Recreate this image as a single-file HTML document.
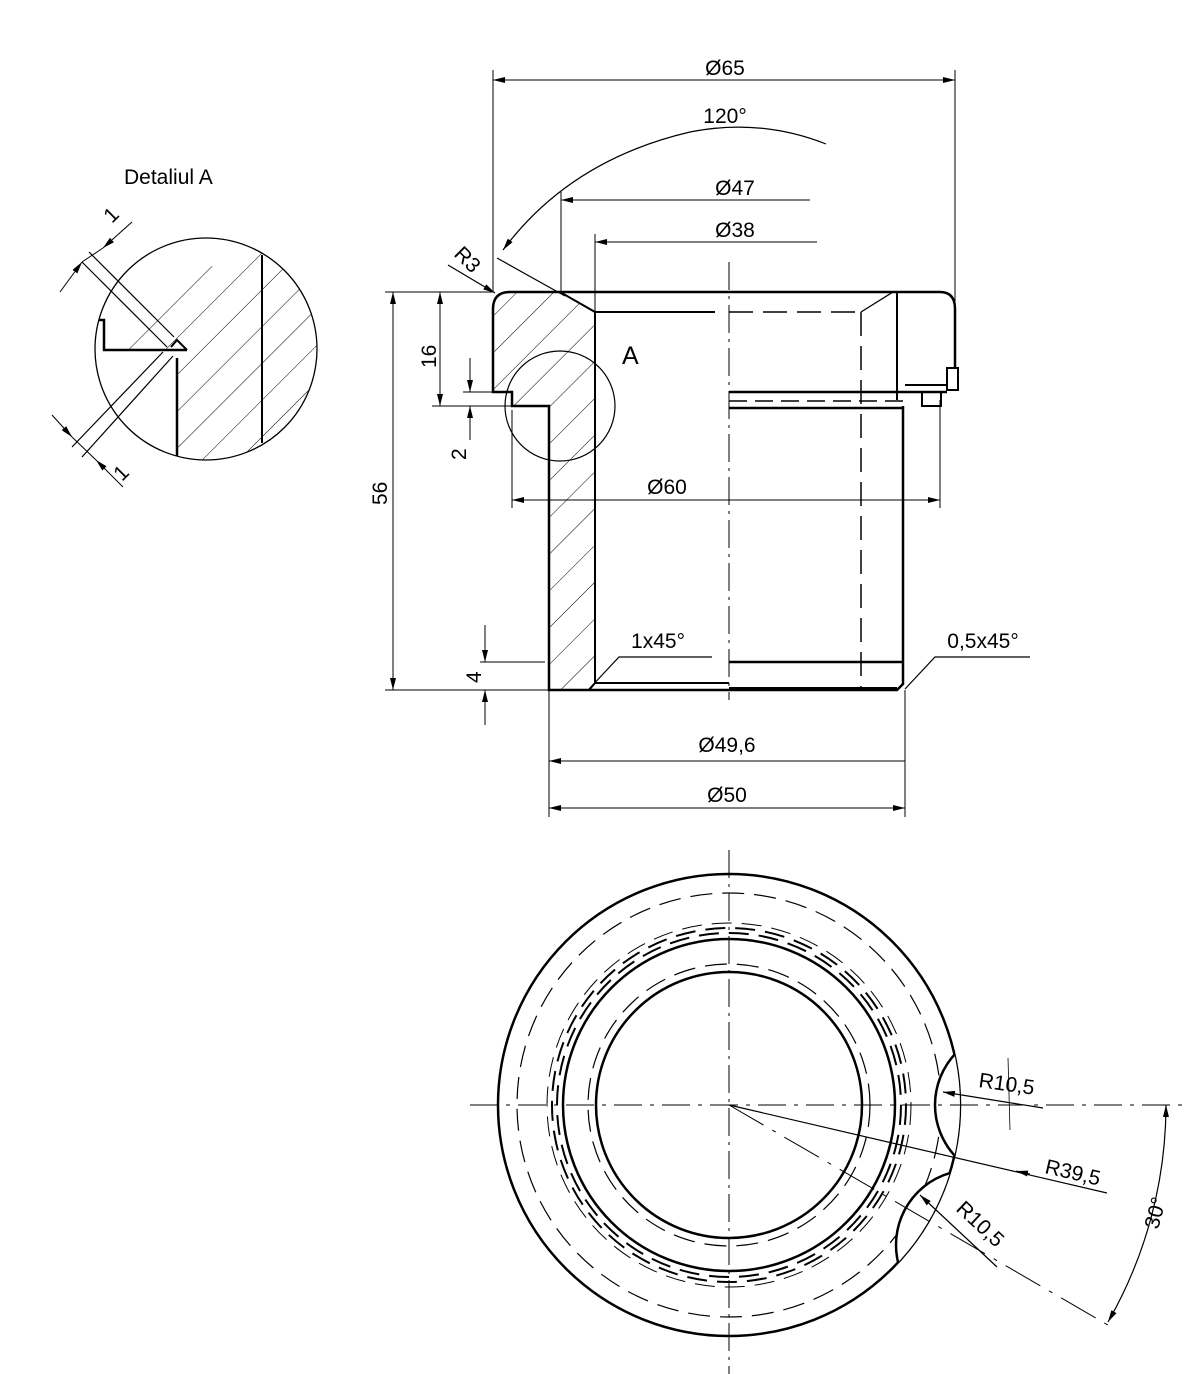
<!DOCTYPE html>
<html><head><meta charset="utf-8"><style>
html,body{margin:0;padding:0;background:#fff}
svg{display:block}
text{font-family:"Liberation Sans",sans-serif;fill:#000}
</style></head><body>
<svg width="1191" height="1374" viewBox="0 0 1191 1374" xmlns="http://www.w3.org/2000/svg">
<defs>
<marker id="a" viewBox="0 0 12 6" refX="12" refY="3" markerWidth="12" markerHeight="6" orient="auto-start-reverse" markerUnits="userSpaceOnUse"><path d="M0,0 L12,3 L0,6 Z" fill="#000"/></marker>
<pattern id="h" patternUnits="userSpaceOnUse" width="26" height="26" patternTransform="rotate(-45)"><line x1="0" y1="0" x2="26" y2="0" stroke="#000" stroke-width="1"/></pattern>
<clipPath id="dc"><circle cx="206" cy="349" r="111"/></clipPath>
<clipPath id="oc"><circle cx="729" cy="1105" r="231"/></clipPath>
</defs>
<g fill="none" stroke="#000">

<!-- Detail A -->
<text x="124" y="184" font-size="21" stroke="none">Detaliul A</text>
<circle cx="206" cy="349" r="111" stroke-width="1.3"/>
<g clip-path="url(#dc)">
<path d="M187,350 L262,255 L330,230 L330,470 L177,470 L177,360 Z" fill="url(#h)" stroke="none"/>
<path d="M104,350 L170,280 L262,250 L262,255 L187,350 Z" fill="url(#h)" stroke="none"/>
</g>
<path d="M99,320 L104,320 L104,350 L187,350" stroke-width="2.5"/>
<path d="M171,347 L177,340 L187,350" stroke-width="2"/>
<line x1="177" y1="358" x2="177" y2="456" stroke-width="2.5"/>
<line x1="262" y1="255" x2="262" y2="443" stroke-width="2"/>
<line x1="89" y1="252" x2="174" y2="337" stroke-width="1.2"/>
<line x1="82" y1="262" x2="167" y2="347" stroke-width="1.2"/>
<line x1="60" y1="292" x2="82" y2="262" stroke-width="1" marker-end="url(#a)"/>
<line x1="132" y1="222" x2="103" y2="248" stroke-width="1" marker-end="url(#a)"/>
<line x1="82" y1="262" x2="103" y2="248" stroke-width="1"/>
<line x1="72" y1="447" x2="163" y2="352" stroke-width="1.2"/>
<line x1="82" y1="457" x2="173" y2="356" stroke-width="1.2"/>
<line x1="52" y1="415" x2="72" y2="437" stroke-width="1" marker-end="url(#a)"/>
<line x1="123" y1="487" x2="96" y2="460" stroke-width="1" marker-end="url(#a)"/>
<line x1="72" y1="437" x2="96" y2="460" stroke-width="1"/>
<text x="0" y="0" font-size="21" stroke="none" transform="translate(112,224) rotate(-45)">1</text>
<text x="0" y="0" font-size="21" stroke="none" transform="translate(122,482) rotate(-45)">1</text>

<!-- Section view -->
<path d="M510,292 L560,292 L595,312 L595,683 L589,690 L549,690 L549,406 L512,406 L512,392 L493,392 L493,309 Q493,292 510,292 Z" fill="url(#h)" stroke="none"/>
<path d="M510,292 L940,292 Q955,292 955,309 L955,368" stroke-width="2.5"/>
<path d="M510,292 Q493,292 493,309 L493,392 L512,392 L512,406 L549,406 L549,690 L897,690 L903,684 L903,406" stroke-width="2.5"/>
<path d="M560,292 L595,312 L595,683 L589,690" stroke-width="2"/>
<line x1="595" y1="312" x2="715" y2="312" stroke-width="2"/>
<line x1="729" y1="312" x2="861" y2="312" stroke-width="1.5" stroke-dasharray="24,10"/>
<line x1="861" y1="312" x2="861" y2="690" stroke-width="1.5" stroke-dasharray="24,10"/>
<path d="M893,292 L861,312" stroke-width="1.3"/>
<line x1="897" y1="292" x2="897" y2="400" stroke-width="2"/>
<rect x="947" y="368" width="11" height="22" stroke-width="2"/>
<line x1="905" y1="385" x2="947" y2="385" stroke-width="2"/>
<line x1="729" y1="392" x2="947" y2="392" stroke-width="2.5"/>
<rect x="922" y="392" width="19" height="14" stroke-width="2"/>
<line x1="729" y1="401" x2="903" y2="401" stroke-width="1.5" stroke-dasharray="18,8"/>
<line x1="729" y1="408" x2="903" y2="408" stroke-width="2.5"/>
<line x1="729" y1="662" x2="903" y2="662" stroke-width="2.5"/>
<line x1="595" y1="683" x2="729" y2="683" stroke-width="2"/>
<line x1="729" y1="689" x2="897" y2="689" stroke-width="4"/>
<line x1="729" y1="262" x2="729" y2="700" stroke-width="1" stroke-dasharray="28,6,3,6"/>
<circle cx="560" cy="406" r="55" stroke-width="1.2"/>
<text x="622" y="364" font-size="25" stroke="none">A</text>

<!-- dims top -->
<line x1="493" y1="70" x2="493" y2="292" stroke-width="1"/>
<line x1="955" y1="70" x2="955" y2="368" stroke-width="1"/>
<line x1="493" y1="80" x2="955" y2="80" stroke-width="1" marker-start="url(#a)" marker-end="url(#a)"/>
<text x="725" y="75" font-size="21" text-anchor="middle" stroke="none">Ø65</text>
<path d="M826,144 Q760,118 690,132 Q570,160 503,250" stroke-width="1.2" marker-end="url(#a)"/>
<text x="725" y="123" font-size="21" text-anchor="middle" stroke="none">120°</text>
<line x1="561" y1="192" x2="561" y2="292" stroke-width="1"/>
<line x1="561" y1="200" x2="810" y2="200" stroke-width="1" marker-start="url(#a)"/>
<text x="735" y="195" font-size="21" text-anchor="middle" stroke="none">Ø47</text>
<line x1="595" y1="234" x2="595" y2="312" stroke-width="1"/>
<line x1="595" y1="242" x2="817" y2="242" stroke-width="1" marker-start="url(#a)"/>
<text x="735" y="237" font-size="21" text-anchor="middle" stroke="none">Ø38</text>
<line x1="448" y1="265" x2="495" y2="293" stroke-width="1.2" marker-end="url(#a)"/>
<line x1="497" y1="258" x2="565" y2="296" stroke-width="1.2"/>
<text x="0" y="0" font-size="21" stroke="none" transform="translate(453,255) rotate(45)">R3</text>

<!-- left dims -->
<line x1="385" y1="292" x2="493" y2="292" stroke-width="1"/>
<line x1="385" y1="690" x2="549" y2="690" stroke-width="1"/>
<line x1="393" y1="292" x2="393" y2="690" stroke-width="1" marker-start="url(#a)" marker-end="url(#a)"/>
<text x="0" y="0" font-size="21" stroke="none" transform="translate(387,505) rotate(-90)">56</text>
<line x1="432" y1="406" x2="512" y2="406" stroke-width="1"/>
<line x1="463" y1="392" x2="493" y2="392" stroke-width="1"/>
<line x1="440" y1="292" x2="440" y2="406" stroke-width="1" marker-start="url(#a)" marker-end="url(#a)"/>
<text x="0" y="0" font-size="21" stroke="none" transform="translate(436,368) rotate(-90)">16</text>
<line x1="470" y1="358" x2="470" y2="392" stroke-width="1" marker-end="url(#a)"/>
<line x1="470" y1="440" x2="470" y2="406" stroke-width="1" marker-end="url(#a)"/>
<text x="0" y="0" font-size="21" stroke="none" transform="translate(466,460) rotate(-90)">2</text>
<line x1="480" y1="662" x2="545" y2="662" stroke-width="1"/>
<line x1="485" y1="625" x2="485" y2="662" stroke-width="1" marker-end="url(#a)"/>
<line x1="485" y1="725" x2="485" y2="690" stroke-width="1" marker-end="url(#a)"/>
<text x="0" y="0" font-size="21" stroke="none" transform="translate(481,683) rotate(-90)">4</text>
<line x1="512" y1="410" x2="512" y2="508" stroke-width="1"/>
<line x1="940" y1="400" x2="940" y2="508" stroke-width="1"/>
<line x1="512" y1="500" x2="940" y2="500" stroke-width="1" marker-start="url(#a)" marker-end="url(#a)"/>
<text x="667" y="494" font-size="21" text-anchor="middle" stroke="none">Ø60</text>
<path d="M589,689 L619,657 L712,657" stroke-width="1.2"/>
<text x="658" y="648" font-size="21" text-anchor="middle" stroke="none">1x45°</text>
<path d="M905,689 L935,657 L1030,657" stroke-width="1.2"/>
<text x="983" y="648" font-size="21" text-anchor="middle" stroke="none">0,5x45°</text>
<line x1="549" y1="690" x2="549" y2="817" stroke-width="1"/>
<line x1="905" y1="690" x2="905" y2="817" stroke-width="1"/>
<line x1="549" y1="761" x2="905" y2="761" stroke-width="1" marker-start="url(#a)"/>
<text x="727" y="752" font-size="21" text-anchor="middle" stroke="none">Ø49,6</text>
<line x1="549" y1="808" x2="905" y2="808" stroke-width="1" marker-start="url(#a)" marker-end="url(#a)"/>
<text x="727" y="802" font-size="21" text-anchor="middle" stroke="none">Ø50</text>

<!-- Bottom view -->
<circle cx="729" cy="1105" r="212" stroke-width="1.2" stroke-dasharray="22,10"/>
<circle cx="729" cy="1105" r="182" stroke-width="1" stroke-dasharray="20,10"/>
<circle cx="729" cy="1105" r="177" stroke-width="2" stroke-dasharray="20,10"/>
<circle cx="729" cy="1105" r="172" stroke-width="2" stroke-dasharray="20,10"/>
<circle cx="729" cy="1105" r="166" stroke-width="2.5"/>
<circle cx="729" cy="1105" r="141" stroke-width="1.2" stroke-dasharray="22,10"/>
<circle cx="729" cy="1105" r="133" stroke-width="2.5"/>
<circle cx="729" cy="1105" r="231" stroke-width="2.5"/>
<g clip-path="url(#oc)">
<circle cx="1010" cy="1105" r="75" fill="#fff" stroke-width="2.5"/>
<circle cx="971" cy="1245" r="75" fill="#fff" stroke-width="2.5"/>
</g>
<line x1="729" y1="850" x2="729" y2="1374" stroke-width="1" stroke-dasharray="28,6,3,6"/>
<line x1="470" y1="1105" x2="1190" y2="1105" stroke-width="1" stroke-dasharray="28,8,4,8"/>
<line x1="729" y1="1105" x2="1113" y2="1328" stroke-width="1" stroke-dasharray="40,10,4,10"/>
<line x1="729" y1="1105" x2="1107" y2="1193" stroke-width="1.2"/>
<line x1="1030" y1="1174" x2="1016" y2="1171" stroke-width="1" marker-end="url(#a)"/>
<text x="0" y="0" font-size="21" stroke="none" transform="translate(1044,1173) rotate(13)">R39,5</text>
<line x1="1043" y1="1108" x2="943" y2="1092" stroke-width="1.2" marker-end="url(#a)"/>
<text x="0" y="0" font-size="21" stroke="none" transform="translate(978,1087) rotate(8)">R10,5</text>
<line x1="1008" y1="1058" x2="1010" y2="1130" stroke-width="0.8"/>
<line x1="997" y1="1267" x2="920" y2="1195" stroke-width="1.2" marker-end="url(#a)"/>
<text x="0" y="0" font-size="21" stroke="none" transform="translate(955,1210) rotate(43)">R10,5</text>
<path d="M1166,1105 A437,437 0 0,1 1108,1322" stroke-width="1.2" marker-start="url(#a)" marker-end="url(#a)"/>
<text x="0" y="0" font-size="21" stroke="none" transform="translate(1158,1230) rotate(-75)">30°</text>
</g>
</svg>
</body></html>
